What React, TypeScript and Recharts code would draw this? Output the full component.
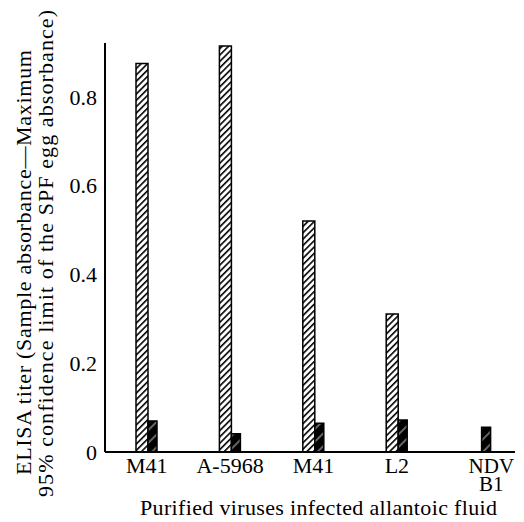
import React from 'react';
import { BarChart, Bar, XAxis, YAxis, Label } from 'recharts';

const categories = ['M41', 'A-5968', 'M41', 'L2', 'NDV\nB1'];
const hatchedValues = [0.875, 0.914, 0.52, 0.311, 0];
const solidValues = [0.07, 0.041, 0.065, 0.072, 0.056];
const yTicks = [0, 0.2, 0.4, 0.6, 0.8];
const yTickLabels = ['0', '0.2', '0.4', '0.6', '0.8'];
const xTitle = 'Purified viruses infected allantoic fluid';
const yTitleLines = [
  'ELISA titer (Sample absorbance\u2014Maximum',
  '95% confidence limit of the SPF egg absorbance)',
];

const data = categories.map((name, i) => ({
  id: i,
  name,
  hatched: hatchedValues[i],
  solid: solidValues[i],
}));

const FONT = 'Liberation Serif';
const FS = 22;
const textStyle = { fontFamily: FONT, fontSize: FS };

function XTick(props: any) {
  const { x, y, payload } = props;
  const label = categories[payload.value] ?? '';
  const lines = label.split('\n');
  const multi = lines.length > 1;
  const shift = multi ? 11 : 0;
  return (
    <text
      x={x + shift}
      y={y}
      textAnchor="middle"
      style={{ fontFamily: FONT, fontSize: multi ? 21 : FS }}
      fill="#000"
    >
      {lines.map((l: string, i: number) => (
        <tspan key={i} x={x + shift} dy={i === 0 ? 21 : 18}>
          {l}
        </tspan>
      ))}
    </text>
  );
}

function XTitle() {
  return (
    <text x={140} y={515} style={textStyle} fill="#000" textLength={357} lengthAdjust="spacing">
      {xTitle}
    </text>
  );
}

function YTitle() {
  return (
    <g>
      <text transform="rotate(-90)" x={-475} y={31} style={textStyle} fill="#000" textLength={425} lengthAdjust="spacing">
        {yTitleLines[0]}
      </text>
      <text transform="rotate(-90)" x={-497} y={53} style={textStyle} fill="#000" textLength={487} lengthAdjust="spacing">
        {yTitleLines[1]}
      </text>
    </g>
  );
}

export default function App() {
  return (
    <div style={{ position: 'absolute', left: 0, top: 0, background: '#fff', fontFamily: FONT }}>
      <BarChart
        width={524}
        height={522}
        data={data}
        margin={{ top: 43, right: 9, bottom: 0, left: 0 }}
        barGap={0}
        barCategoryGap={0}
      >
        <defs>
          <pattern id="hatch" patternUnits="userSpaceOnUse" width={4.5} height={4.5} patternTransform="rotate(45)">
            <rect width={4.5} height={4.5} fill="#fff" />
            <line x1={0} y1={0} x2={0} y2={4.5} stroke="#000" strokeWidth={3.2} />
          </pattern>
          <pattern id="dark" patternUnits="userSpaceOnUse" width={9} height={9} patternTransform="rotate(45)">
            <rect width={9} height={9} fill="#000" />
            <line x1={4} y1={0} x2={4} y2={9} stroke="#fff" strokeWidth={0.8} />
          </pattern>
        </defs>
        <XAxis
          dataKey="id"
          type="category"
          height={70}
          tickLine={false}
          tickSize={0}
          tickMargin={0}
          axisLine={{ stroke: '#000', strokeWidth: 2 }}
          tick={<XTick />}
          interval={0}
          padding={{ left: 0, right: -7 }}
        >
          <Label content={<XTitle />} />
        </XAxis>
        <YAxis
          width={105}
          domain={[0, 0.921]}
          ticks={yTicks}
          tickFormatter={(v: number) => yTickLabels[yTicks.indexOf(v)] ?? ''}
          tickLine={false}
          tickSize={0}
          tickMargin={8}
          axisLine={{ stroke: '#000', strokeWidth: 2 }}
          tick={{ fill: '#000', fontSize: FS, fontFamily: FONT, style: { fontFamily: FONT } }}
          allowDataOverflow
        >
          <Label content={<YTitle />} />
        </YAxis>
        <Bar dataKey="hatched" barSize={12} fill="url(#hatch)" stroke="#000" strokeWidth={1.5} isAnimationActive={false} />
        <Bar dataKey="solid" barSize={9} fill="url(#dark)" stroke="#000" strokeWidth={1.5} isAnimationActive={false} />
      </BarChart>
    </div>
  );
}
